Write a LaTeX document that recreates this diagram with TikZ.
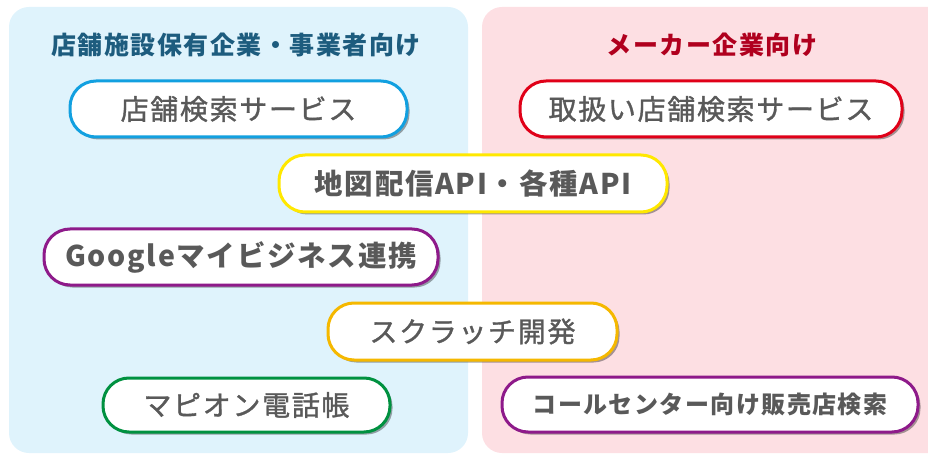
\documentclass[tikz,border=0pt]{standalone}
\usepackage{fontspec}
\setmainfont{Noto Sans CJK JP}
\newfontfamily\jp[LetterSpace=6]{Noto Sans CJK JP}
\newfontfamily\jpm[LetterSpace=6, FakeBold=1.2]{Noto Sans CJK JP}
\usetikzlibrary{shadows}
\definecolor{panelblue}{HTML}{DFF3FC}
\definecolor{panelpink}{HTML}{FDDFE3}
\definecolor{hdblue}{HTML}{1D5C7E}
\definecolor{hdred}{HTML}{B0001E}
\definecolor{txtgray}{HTML}{595959}
\definecolor{cblue}{HTML}{12A0E0}
\definecolor{cred}{HTML}{E00018}
\definecolor{cyellow}{HTML}{FFE800}
\definecolor{cpurple}{HTML}{8E1A8A}
\definecolor{corange}{HTML}{F5B800}
\definecolor{cgreen}{HTML}{009140}
\tikzset{
  pill/.style={draw=#1, line width=3pt, fill=white, rounded corners=26pt,
    drop shadow={shadow xshift=2.5pt, shadow yshift=-2.5pt, fill=black, opacity=0.35},
    text=txtgray, inner sep=0pt, font=\jpm\fontsize{28}{32}\selectfont},
  boldpill/.style={font=\jp\bfseries\fontsize{28.5}{32}\selectfont},
  header/.style={font=\jp\bfseries\fontsize{25}{29}\selectfont, inner sep=0pt},
  panel/.style={rounded corners=20pt, draw=none}
}
\begin{document}
\begin{tikzpicture}[x=1pt,y=-1pt]
\useasboundingbox (0,0) rectangle (928,454);
\fill[panel, fill=panelblue] (9,7) rectangle (468,453);
\fill[panel, fill=panelpink] (482,7) rectangle (948,453);
\node[header, text=hdblue] (hl) at (236,45) {店舗施設保有企業・事業者向け};
\node[header, text=hdred] (hr) at (712,45) {メーカー企業向け};
\node[pill=cblue, minimum width=337pt, minimum height=56pt] (p1) at (238.5,109) {店舗検索サービス};
\node[pill=cred, minimum width=382pt, minimum height=56pt] (p2) at (711,109) {取扱い店舗検索サービス};
\node[pill=cyellow, minimum width=388pt, minimum height=57pt, boldpill] (p3) at (473,183.5) {地図配信API・各種API};
\node[pill=cpurple, minimum width=394pt, minimum height=56pt, boldpill] (p4) at (241,257) {Googleマイビジネス連携};
\node[pill=corange, minimum width=289pt, minimum height=57pt] (p5) at (472.5,331.5) {スクラッチ開発};
\node[pill=cgreen, minimum width=287pt, minimum height=54pt] (p6) at (246.5,405) {マピオン電話帳};
\node[pill=cpurple, minimum width=416pt, minimum height=55pt, font=\jp\bfseries\fontsize{24}{28}\selectfont] (p7) at (710,404.5) {コールセンター向け販売店検索};
\end{tikzpicture}
\end{document}
